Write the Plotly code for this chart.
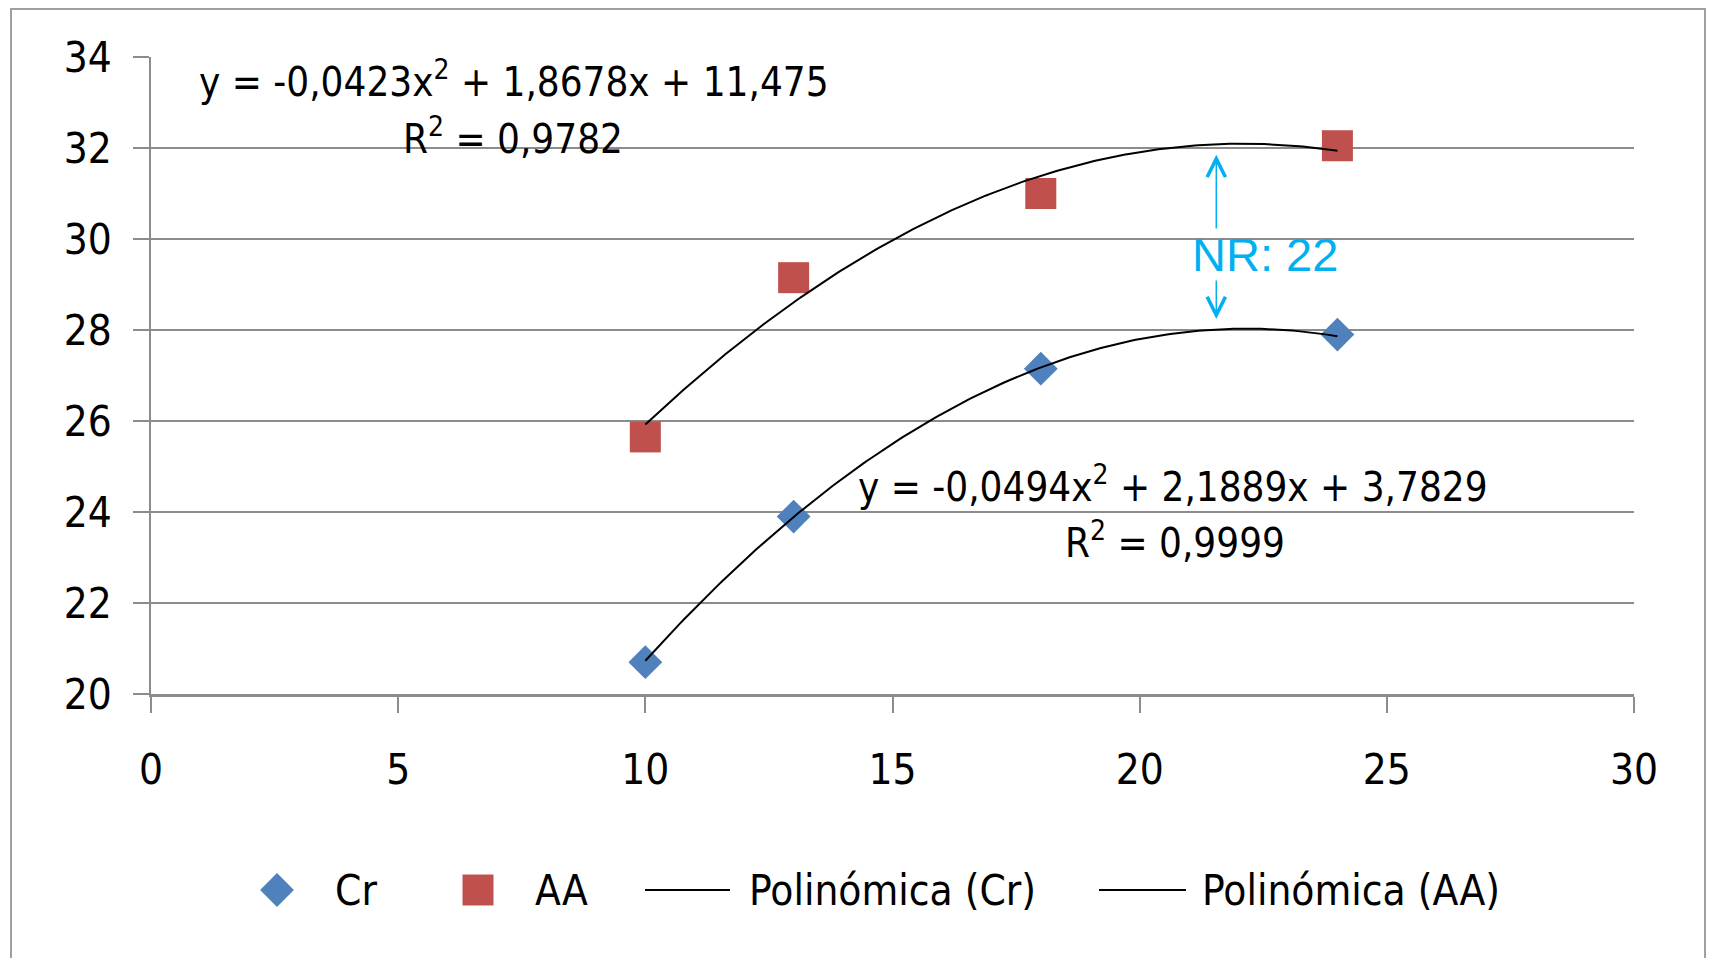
import numpy as np
import plotly.graph_objects as go

# ---- data ----
x_vals = [10, 13, 18, 24]
cr_vals = [20.7, 23.9, 27.15, 27.9]
aa_vals = [25.65, 29.15, 31.0, 32.05]
cr_coef = [-0.0494, 2.1889, 3.7829]
aa_coef = [-0.0423, 1.8678, 11.475]
cr_r2 = 0.9999
aa_r2 = 0.9782
x_ticks = [0, 5, 10, 15, 20, 25, 30]
y_ticks = [20, 22, 24, 26, 28, 30, 32, 34]
nr_label = "NR: 22"
nr_x = 21.55
nr_span_top = [31.85, 30.2]
nr_span_bot = [28.24, 29.12]
legend_labels = ["Cr", "AA", "Polinómica (Cr)", "Polinómica (AA)"]

FONT = "Liberation Sans Narrow, DejaVu Sans Condensed, Arial Narrow, sans-serif"
GRID = "#8c8c8c"
BLUE = "#4F81BD"
RED = "#C0504D"
CYAN = "#00B0F0"

# figure geometry (pixels)
W, H = 1714, 958
ML, MR, MT, MB = 151, 80, 57, 0
PLOT_BOTTOM = 694
area_h = H - MT - MB
main_dom = [(H - MB - PLOT_BOTTOM) / area_h, 1.0]
LEG_Y = 890
leg_dom = [(H - MB - LEG_Y - 25) / area_h, (H - MB - LEG_Y + 25) / area_h]
px_left, px_right = ML, W - MR


def fmt(v, nd):
    return f"{abs(v):.{nd}f}".replace(".", ",")


def eq_text(c):
    a, b, k = c
    return (f"y = -{fmt(a,4)}x<sup>2</sup> + {fmt(b,4)}x + "
            f"{fmt(k, 3 if k >= 10 else 4)}")


xs = np.linspace(min(x_vals), max(x_vals), 200)
cr_fit = np.polyval(cr_coef, xs)
aa_fit = np.polyval(aa_coef, xs)

cr_marker = dict(symbol="diamond", size=26, color=BLUE)
aa_marker = dict(symbol="square", size=31, color=RED)
fit_line = dict(color="black", width=2)

fig = go.Figure()
fig.add_trace(go.Scatter(x=x_vals, y=cr_vals, mode="markers", name=legend_labels[0],
                         marker=cr_marker, showlegend=False))
fig.add_trace(go.Scatter(x=x_vals, y=aa_vals, mode="markers", name=legend_labels[1],
                         marker=aa_marker, showlegend=False))
fig.add_trace(go.Scatter(x=xs, y=cr_fit, mode="lines", name=legend_labels[2],
                         line=fit_line, showlegend=False))
fig.add_trace(go.Scatter(x=xs, y=aa_fit, mode="lines", name=legend_labels[3],
                         line=fit_line, showlegend=False))

# ---- legend strip (own axes, x in pixels) ----
leg_key_x = [277, 478, (645, 730), (1099, 1186)]
leg_text_x = [333, 533, 747, 1200]
fig.add_trace(go.Scatter(x=[leg_key_x[0]], y=[0.5], mode="markers", marker=cr_marker,
                         xaxis="x2", yaxis="y2", showlegend=False, hoverinfo="skip"))
fig.add_trace(go.Scatter(x=[leg_key_x[1]], y=[0.5], mode="markers", marker=aa_marker,
                         xaxis="x2", yaxis="y2", showlegend=False, hoverinfo="skip"))
for seg in leg_key_x[2:]:
    fig.add_trace(go.Scatter(x=list(seg), y=[0.5, 0.5], mode="lines", line=fit_line,
                             xaxis="x2", yaxis="y2", showlegend=False,
                             hoverinfo="skip"))

annots = [
    dict(x=7.34, y=33.52, text=eq_text(aa_coef)),
    dict(x=7.32, y=32.26, text=f"R<sup>2</sup> = {fmt(aa_r2,4)}"),
    dict(x=20.68, y=24.62, text=eq_text(cr_coef)),
    dict(x=20.72, y=23.38, text=f"R<sup>2</sup> = {fmt(cr_r2,4)}"),
]
for a in annots:
    a.update(xref="x", yref="y", showarrow=False, xanchor="center",
             yanchor="middle", font=dict(family=FONT, size=40, color="black"))
annots.append(dict(x=22.54, y=29.65, xref="x", yref="y", text=nr_label,
                   showarrow=False, xanchor="center", yanchor="middle",
                   font=dict(family="Liberation Sans, Arial, sans-serif",
                             size=47, color=CYAN)))
for tip, tail in (nr_span_top, nr_span_bot):
    annots.append(dict(x=nr_x, y=tip, ax=nr_x, ay=tail, xref="x", yref="y",
                       axref="x", ayref="y", text="", showarrow=True,
                       arrowhead=5, arrowsize=2.4, arrowwidth=1.5,
                       arrowcolor=CYAN))
for lbl, tx in zip(legend_labels, leg_text_x):
    annots.append(dict(x=tx, y=0.5, xref="x2", yref="y2", text=lbl,
                       showarrow=False, xanchor="left", yanchor="middle",
                       font=dict(family=FONT, size=42, color="black")))

fig.update_layout(
    width=W, height=H,
    margin=dict(l=ML, r=MR, t=MT, b=MB, pad=0, autoexpand=False),
    paper_bgcolor="white", plot_bgcolor="white",
    showlegend=False,
    annotations=annots,
    shapes=[dict(type="rect", xref="paper", yref="paper",
                 x0=(11 - ML) / (px_right - px_left),
                 x1=(1705 - ML) / (px_right - px_left),
                 y0=-0.05, y1=(H - MB - 9) / area_h,
                 line=dict(color="#a0a0a0", width=2), layer="below")],
    xaxis=dict(range=[0, 30], tickvals=x_ticks, showgrid=False,
               zeroline=False, showline=True, linecolor=GRID, linewidth=3,
               ticks="outside", ticklen=16, tickcolor=GRID, tickwidth=1.5,
               ticklabelstandoff=21, anchor="y", automargin=False,
               tickfont=dict(family=FONT, size=42, color="black")),
    yaxis=dict(range=[20, 34], tickvals=y_ticks, showgrid=True, domain=main_dom,
               gridcolor=GRID, gridwidth=2, zeroline=False, showline=True,
               linecolor=GRID, linewidth=1.5, ticks="outside", ticklen=16,
               tickcolor=GRID, tickwidth=1.5, ticklabelstandoff=13, anchor="x",
               automargin=False,
               tickfont=dict(family=FONT, size=42, color="black")),
    xaxis2=dict(range=[px_left, px_right], domain=[0, 1], anchor="y2",
                visible=False, fixedrange=True, automargin=False),
    yaxis2=dict(range=[0, 1], domain=leg_dom, anchor="x2",
                visible=False, fixedrange=True, automargin=False),
)
fig.write_html("out.html")
